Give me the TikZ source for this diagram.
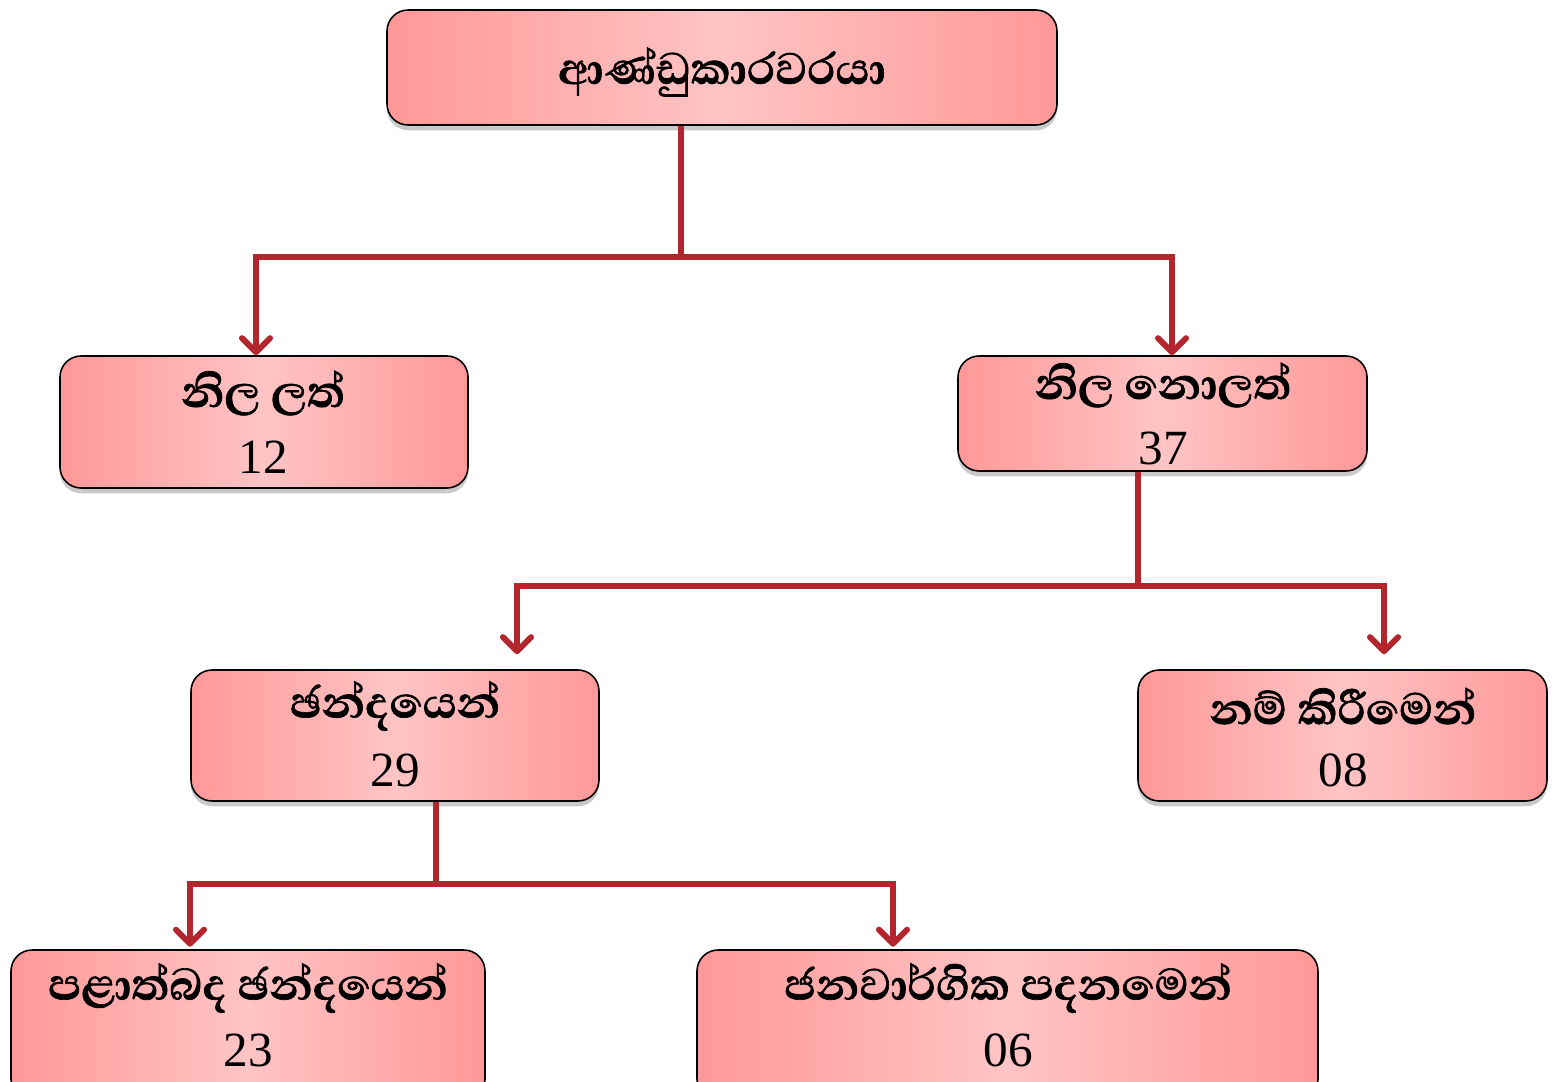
\documentclass[tikz,border=0pt]{standalone}
\usepackage{fontspec}
\setmainfont{Liberation Serif}
\newfontfamily\sinhalafnt[Script=Sinhala, BoldFeatures={FakeBold=1.2}]{Abhaya Libre}
\usetikzlibrary{arrows.meta,shadows}
\definecolor{conred}{RGB}{180,38,46}
\definecolor{boxdark}{RGB}{255,152,152}
\definecolor{boxlight}{RGB}{255,196,196}
\tikzset{
  pbox/.style={draw=black, line width=0.9pt, rounded corners=12pt, inner sep=0pt,
    left color=boxdark, right color=boxdark, middle color=boxlight,
    drop shadow={shadow xshift=0pt, shadow yshift=-3pt, opacity=0.35, fill=black!60}},
  stxt/.style={font=\sinhalafnt\bfseries\fontsize{32}{34}\selectfont, inner sep=0pt, anchor=center},
  ntxt/.style={font=\fontsize{28}{30}\selectfont, inner sep=0pt, anchor=center},
  conn/.style={draw=conred, line width=3.4pt},
  arr/.style={conn, -{Straight Barb[length=8pt,width=16pt,line width=3.4pt,round]}}
}
\begin{document}
\begin{tikzpicture}
\clip (0,0) rectangle (31.06,-21.62);
\fill[white] (0,0) rectangle (31.06,-21.62);
% boxes
\node[pbox, minimum width=13.4cm, minimum height=2.3cm] (top) at (14.44,-1.35) {};
\node[pbox, minimum width=8.16cm, minimum height=2.64cm] (l1l) at (5.28,-8.44) {};
\node[pbox, minimum width=8.18cm, minimum height=2.3cm] (l1r) at (23.25,-8.27) {};
\node[pbox, minimum width=8.16cm, minimum height=2.62cm] (l2l) at (7.9,-14.71) {};
\node[pbox, minimum width=8.18cm, minimum height=2.62cm] (l2r) at (26.85,-14.71) {};
\node[pbox, minimum width=9.48cm, minimum height=3.0cm] (l3l) at (4.96,-20.5) {};
\node[pbox, minimum width=12.42cm, minimum height=3.0cm] (l3r) at (20.15,-20.5) {};
% texts
\node[stxt] (ttop) at (14.44,-1.44) {ආණ්ඩුකාරවරයා};
\node[stxt] (t1l) at (5.26,-7.86) {නිල ලත්};
\node[ntxt] (n1l) at (5.26,-9.14) {12};
\node[stxt] (t1r) at (23.26,-7.70) {නිල නොලත්};
\node[ntxt] (n1r) at (23.26,-8.96) {37};
\node[stxt] (t2l) at (7.9,-14.12) {ඡන්දයෙන්};
\node[ntxt] (n2l) at (7.9,-15.40) {29};
\node[stxt] (t2r) at (26.86,-14.12) {නම් කිරීමෙන්};
\node[ntxt] (n2r) at (26.86,-15.40) {08};
\node[stxt] (t3l) at (4.96,-19.76) {පළාත්බද ඡන්දයෙන්};
\node[ntxt] (n3l) at (4.96,-21.0) {23};
\node[stxt] (t3r) at (20.16,-19.76) {ජනවාර්ගික පදනමෙන්};
\node[ntxt] (n3r) at (20.16,-21.0) {06};
% connectors level 1
\coordinate (j1) at (13.62,-5.14);
\coordinate (a1) at (5.12,-5.14);
\coordinate (b1) at (23.44,-5.14);
\draw[conn] (top.south -| j1) -- (j1);
\draw[conn, line cap=rect] (a1) -- (b1);
\draw[arr] (a1) -- (l1l.north -| a1);
\draw[arr] (b1) -- (l1r.north -| b1);
% level 2
\coordinate (j2) at (22.76,-11.72);
\coordinate (a2) at (10.34,-11.72);
\coordinate (b2) at (27.68,-11.72);
\draw[conn] (l1r.south -| j2) -- (j2);
\draw[conn, line cap=rect] (a2) -- (b2);
\draw[arr, shorten >=0.3cm] (a2) -- (l2l.north -| a2);
\draw[arr, shorten >=0.3cm] (b2) -- (l2r.north -| b2);
% level 3
\coordinate (j3) at (8.72,-17.68);
\coordinate (a3) at (3.8,-17.68);
\coordinate (b3) at (17.86,-17.68);
\draw[conn] (l2l.south -| j3) -- (j3);
\draw[conn, line cap=rect] (a3) -- (b3);
\draw[arr, shorten >=0.05cm] (a3) -- (l3l.north -| a3);
\draw[arr, shorten >=0.05cm] (b3) -- (l3r.north -| b3);
\end{tikzpicture}
\end{document}
